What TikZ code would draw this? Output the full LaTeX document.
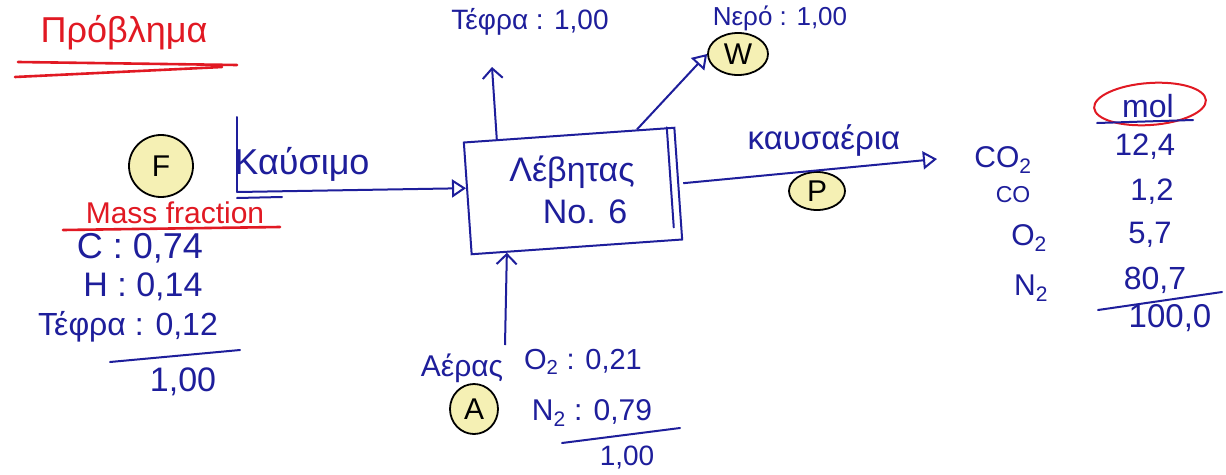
\documentclass[tikz,border=0pt]{standalone}
\usepackage{fontspec}
\setmainfont{Liberation Sans}
\usetikzlibrary{arrows.meta,shapes.geometric,calc}
\definecolor{ink}{RGB}{30,30,155}
\definecolor{redink}{RGB}{225,25,35}
\definecolor{hl}{RGB}{245,240,180}
\newcommand{\fsz}[1]{\fontsize{#1}{#1}\selectfont}
\tikzset{
 txt/.style={text=ink, inner sep=0pt},
 rtxt/.style={text=redink, inner sep=0pt},
 tag/.style={ellipse, draw=black, fill=hl, line width=1.8pt, inner sep=0pt, font=\fsz{30}},
 stream/.style={draw=ink, line width=2pt, -{Triangle[open,length=14pt,width=18pt]}},
 upstream/.style={draw=ink, line width=2pt, -{Straight Barb[length=10pt,width=20pt]}},
 inkline/.style={draw=ink, line width=2pt, line cap=round},
 redline/.style={draw=redink, line width=2.6pt, line cap=round},
 boiler/.style={draw=ink, line width=2pt, minimum width=211pt, minimum height=112pt, rotate=4},
}
\begin{document}
\begin{tikzpicture}[x=1pt,y=-1pt]
\useasboundingbox (0,0) rectangle (1226,474);
\fill[white] (0,0) rectangle (1226,474);

% title
\node[rtxt, font=\fsz{36}] (title) at (124,33) {Πρόβλημα};
\draw[redline] (18,62) -- (237,65);
\draw[redline] (15,77) -- (222,67);

% boiler
\node[boiler] (box) at (573,191) {};
\node[txt, font=\fsz{34}] (leb) at (572,172) {Λέβητας};
\node[txt, font=\fsz{34}] (no6) at (585,212) {No. 6};
\coordinate (r1) at ($(box.north east)!0.04!(box.north west)$);
\coordinate (r2) at ($(box.south east)!0.04!(box.south west)$);
\draw[inkline] (r1) -- ($(r1)!0.88!(r2)$);

% ash
\node[txt, font=\fsz{28}] (tefra) at (530,22) {Τέφρα : 1,00};
\coordinate (ashtip) at (492,67);
\draw[upstream] ($(box.north west)!0.16!(box.north east)$) -- (ashtip);

% water
\node[txt, font=\fsz{26}] (nero) at (780,18) {Νερό : 1,00};
\node[tag, minimum width=60pt, minimum height=42pt] (W) at (738,54) {W};
\draw[stream] ($(box.north west)!0.82!(box.north east)$) -- (W.west);

% fuel
\node[tag, minimum width=64pt, minimum height=62pt] (F) at (161,166) {F};
\node[txt, font=\fsz{36}] (kafs) at (302,164) {Καύσιμο};
\coordinate (fin) at (237,192);
\draw[inkline] (fin) -- ++(0,-75);
\draw[inkline] ($(fin)+(0,6)$) -- ++(45,-1);
\draw[stream] (fin) -- ($(box.north west)!0.41!(box.south west)$);

\node[rtxt, font=\fsz{30}] (mass) at (175,213) {Mass fraction};
\draw[redline] (63,230) -- (280,227);
\node[txt, font=\fsz{36}] (fc) at (140,248) {C : 0,74};
\node[txt, font=\fsz{34}] (fh) at (143,287) {H : 0,14};
\node[txt, font=\fsz{32}] (fa) at (128,327) {Τέφρα : 0,12};
\draw[inkline] (110,362) -- (240,350);
\node[txt, font=\fsz{34}] (fsum) at (183,382) {1,00};

% flue gas
\node[txt, font=\fsz{33}] (kafsa) at (824,140) {καυσαέρια};
\node[tag, minimum width=56pt, minimum height=38pt] (P) at (817,191) {P};
\coordinate (ptip) at (937,159);
\draw[stream, shorten <=4pt] (box.east) -- (ptip);

% product table
\node[ellipse, draw=redink, line width=2pt, minimum width=112pt, minimum height=42pt, rotate=4] (molring) at (1150,104) {};
\node[txt, font=\fsz{32}] (mol) at (1148,106) {mol};
\draw[inkline] (1097,123) -- (1193,120);
\node[txt, font=\fsz{30}] (co2) at (1003,160) {CO\textsubscript{2}};
\node[txt, font=\fsz{31}] (v1) at (1145,147) {12,4};
\node[txt, font=\fsz{23}] (co) at (1013,195) {CO};
\node[txt, font=\fsz{31}] (v2) at (1152,192) {1,2};
\node[txt, font=\fsz{30}] (o2) at (1029,238) {O\textsubscript{2}};
\node[txt, font=\fsz{31}] (v3) at (1150,235) {5,7};
\node[txt, font=\fsz{30}] (n2) at (1031,288) {N\textsubscript{2}};
\node[txt, font=\fsz{32}] (v4) at (1155,280) {80,7};
\draw[inkline] (1098,310) -- (1222,292);
\node[txt, font=\fsz{33}] (vsum) at (1170,318) {100,0};

% air
\node[txt, font=\fsz{30}] (aeras) at (462,368) {Αέρας};
\node[tag, minimum width=48pt, minimum height=50pt] (A) at (474,409) {A};
\coordinate (airin) at (505,345);
\draw[upstream] (airin) -- ($(box.south west)!0.17!(box.south east)$);
\node[txt, font=\fsz{29}] (ao2) at (583,362) {O\textsubscript{2} : 0,21};
\node[txt, font=\fsz{30}] (an2) at (592,413) {N\textsubscript{2} : 0,79};
\draw[inkline] (562,443) -- (680,428);
\node[txt, font=\fsz{28}] (asum) at (627,458) {1,00};
\end{tikzpicture}
\end{document}
